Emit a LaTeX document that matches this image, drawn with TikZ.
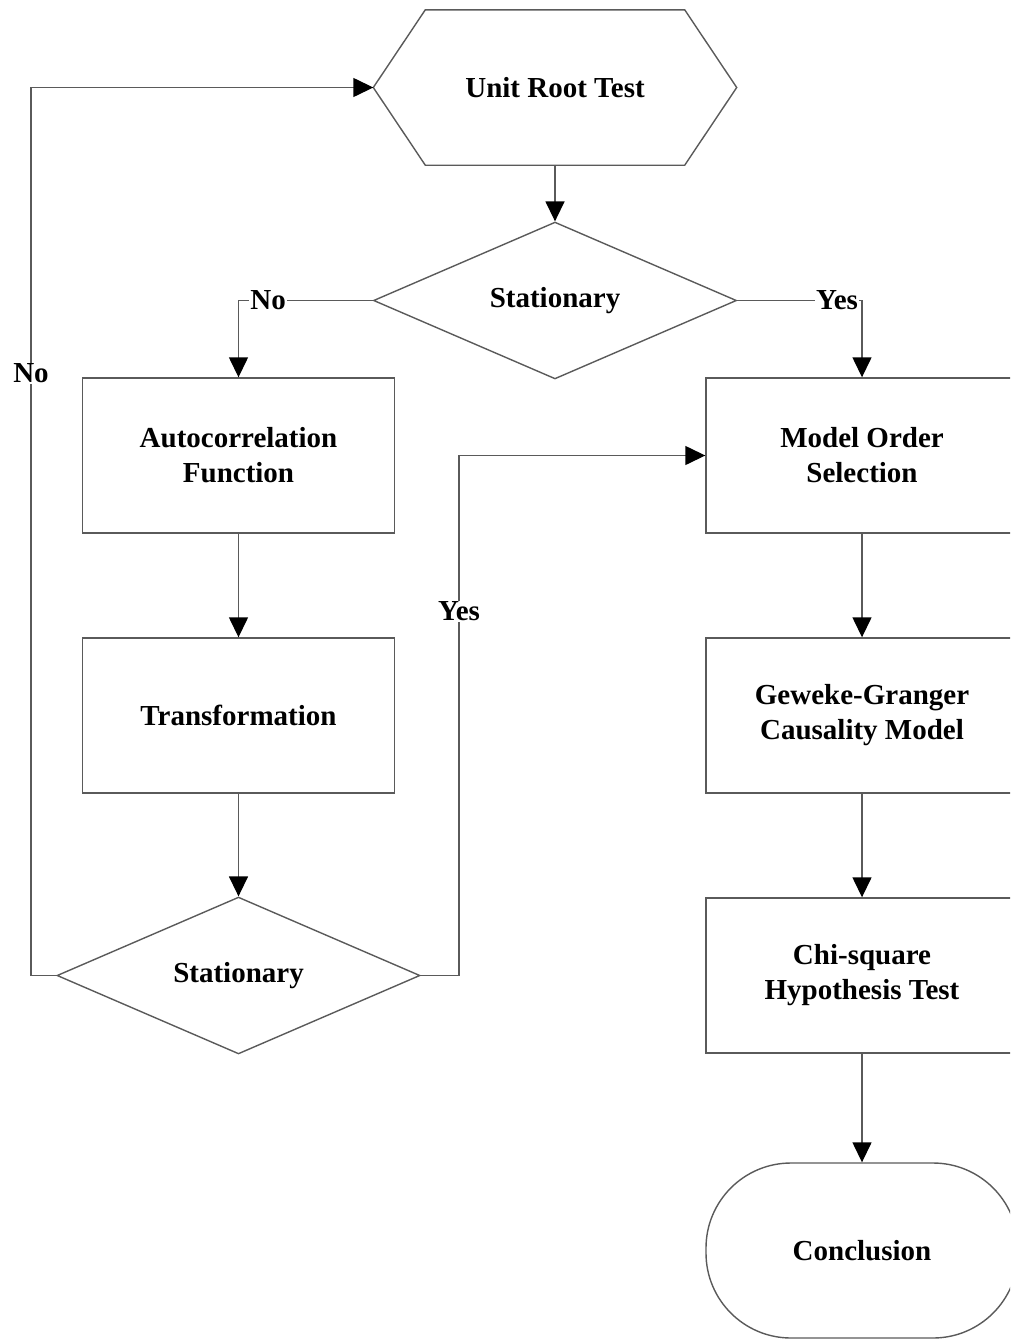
\documentclass[tikz,border=0pt]{standalone}
\usepackage{fontspec}
\setmainfont{Liberation Serif}
\usetikzlibrary{arrows.meta,shapes.geometric,shapes.misc}
\definecolor{linegray}{HTML}{5A5A5A}
\begin{document}
\begin{tikzpicture}[x=1pt,y=-1pt,
  every node/.style={font=\fontsize{29}{35}\selectfont\bfseries, align=center, inner sep=0pt},
  procbox/.style={draw=linegray, line width=1.4pt, rectangle, minimum width=312pt, minimum height=155pt},
  decbox/.style={draw=linegray, line width=1.4pt, diamond, minimum width=363pt, minimum height=155pt},
  termbox/.style={draw=linegray, line width=1.4pt, rectangle, rounded corners=85pt, minimum width=312pt, minimum height=175pt},
  hexbox/.style={rectangle, minimum width=363pt, minimum height=155pt},
  arr/.style={draw=linegray, line width=1.4pt, -{Triangle[length=20pt,width=19pt,color=black]}},
  lbl/.style={fill=white, inner sep=1pt}]
\useasboundingbox (0,0) rectangle (1010,1339);
\clip (0,0) rectangle (1010,1339);

\node[hexbox] (urt) at (555,87.5) {Unit Root Test};
\draw[draw=linegray, line width=1.4pt]
  ([xshift=52pt]urt.north west) -- ([xshift=-52pt]urt.north east) -- (urt.east)
  -- ([xshift=-52pt]urt.south east) -- ([xshift=52pt]urt.south west) -- (urt.west) -- cycle;

\node[decbox] (d1) at (555,300.5) {Stationary};
\node[procbox] (acf) at (238.5,455.5) {Autocorrelation\\Function};
\node[procbox] (tr) at (238.5,715.5) {Transformation};
\node[decbox] (d2) at (238.5,975.5) {Stationary};
\node[procbox] (mos) at (862,455.5) {Model Order\\Selection};
\node[procbox] (ggc) at (862,715.5) {Geweke-Granger\\Causality Model};
\node[procbox] (chi) at (862,975.5) {Chi-square\\Hypothesis Test};
\node[termbox] (con) at (862,1250.5) {Conclusion};

\coordinate (lc) at (31,975.5);
\coordinate (rc) at (459,975.5);

\draw[arr] (urt.south) -- (d1.north);
\draw[arr] (d1.west) -| node[lbl, pos=0.39] {No} (acf.north);
\draw[arr] (d1.east) -| node[lbl, pos=0.40] {Yes} (mos.north);
\draw[arr] (acf) -- (tr);
\draw[arr] (tr) -- (d2);
\draw[arr] (d2.west) -- (lc) |- node[lbl, pos=0.339] {No} (urt.west);
\draw[arr] (d2.east) -- (rc) |- node[lbl, pos=0.35] {Yes} (mos.west);
\draw[arr] (mos) -- (ggc);
\draw[arr] (ggc) -- (chi);
\draw[arr] (chi) -- (con);
\end{tikzpicture}
\end{document}
